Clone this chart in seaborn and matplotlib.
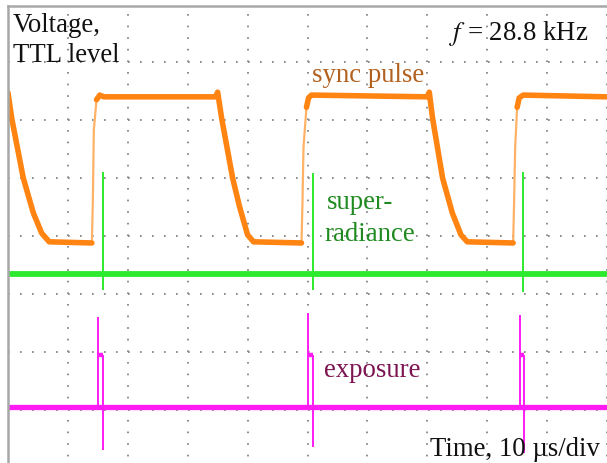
import numpy as np
import matplotlib
matplotlib.use('Agg')
import matplotlib.pyplot as plt
import seaborn as sns

# time in microseconds (10 us per division), level in screen divisions
time_span = [0.0, 99.9]

# sync pulse (orange trace)
sync_time = [0.0, 0.62, 2.55, 4.22, 5.62, 6.88, 14.0, 14.17, 14.33, 14.78, 15.33, 16.0,
             34.67, 35.0, 35.67, 37.5, 38.67, 40.0, 41.0, 49.0, 49.17, 49.33, 49.83, 50.17, 50.67,
             70.0, 70.33, 70.88, 72.55, 74.17, 75.62, 76.67, 84.33, 84.5, 84.67, 85.0, 85.33, 86.0, 99.9]
sync_level = [6.47, 6.03, 5.0, 4.40, 4.05, 3.90, 3.88, 4.62, 5.83, 6.35, 6.43, 6.40,
              6.40, 6.48, 6.03, 5.0, 4.50, 4.02, 3.90, 3.88, 4.62, 5.53, 6.22, 6.38, 6.43,
              6.40, 6.48, 6.03, 5.0, 4.40, 4.02, 3.90, 3.88, 4.62, 5.53, 6.22, 6.38, 6.43, 6.40]

# superradiance (green trace)
sr_baseline = 3.345
sr_spike_time = [15.83, 51.0, 86.0]
sr_spike_top = [5.10, 5.09, 5.10]
sr_spike_bottom = [3.07, 3.07, 3.04]

# exposure (magenta trace)
exp_baseline = 1.05
exp_rise_time = [15.05, 50.0, 85.45]
exp_fall_time = [15.88, 51.0, 86.17]
exp_overshoot = [2.60, 2.67, 2.64]
exp_plateau = [1.95, 1.95, 1.95]
exp_undershoot = [0.31, 0.36, 0.26]

sns.set_style('white')
plt.rcParams['font.family'] = ['Liberation Serif', 'DejaVu Serif']
plt.rcParams['mathtext.fontset'] = 'stix'
plt.rcParams['lines.scale_dashes'] = False

fig = plt.figure(figsize=(6.07, 4.63), dpi=100)
ax = fig.add_axes([8 / 607, 0, 599 / 607, 457 / 463])
ax.set_xlim(0, 99.83)
ax.set_ylim(0.086, 7.966)

# oscilloscope graticule: dotted lines
ax.set_xticks(np.arange(0, 101, 10))
ax.set_yticks(np.arange(1, 8))
ax.tick_params(length=0, labelbottom=False, labelleft=False)
ax.xaxis.grid(True, color='#8c8c8c', lw=1.4, linestyle=(3.6, (1.2, 7.15)))
ax.yaxis.grid(True, color='#8c8c8c', lw=1.4, linestyle=(0, (1.2, 7.44)))
for side in ['right', 'bottom']:
    ax.spines[side].set_visible(False)
for side in ['left', 'top']:
    ax.spines[side].set_color('#a8a8a8')
    ax.spines[side].set_linewidth(1.8)

orange = '#ff8412'
green = '#2eea2e'
magenta = '#ff1cf4'

# sync pulse: fast rising edges are drawn faint and thin, the rest thick
t = np.array(sync_time)
v = np.array(sync_level)
sns.lineplot(x=t, y=v, ax=ax, color='#ffb266', lw=1.6, sort=False, estimator=None)
steep = np.diff(v) / np.diff(t) > 1
run = [0]
for i in range(len(steep)):
    if steep[i]:
        if len(run) > 1:
            sns.lineplot(x=t[run], y=v[run], ax=ax, color=orange, lw=4.0, sort=False,
                         estimator=None, solid_joinstyle='round', solid_capstyle='round')
        run = [i + 1]
    else:
        run.append(i + 1)
sns.lineplot(x=t[run], y=v[run], ax=ax, color=orange, lw=4.0, sort=False,
             estimator=None, solid_joinstyle='round', solid_capstyle='round')

# superradiance
sns.lineplot(x=time_span, y=[sr_baseline, sr_baseline], ax=ax, color=green, lw=4.2,
             estimator=None)
ax.vlines(sr_spike_time, sr_spike_bottom, sr_spike_top, color=green, lw=1.4)

# exposure
sns.lineplot(x=time_span, y=[exp_baseline, exp_baseline], ax=ax, color=magenta, lw=3.8,
             estimator=None)
ax.vlines(exp_rise_time, exp_baseline, exp_overshoot, color=magenta, lw=1.4)
ax.vlines(exp_fall_time, exp_undershoot, exp_plateau, color=magenta, lw=1.4)
ax.hlines(exp_plateau, exp_rise_time, exp_fall_time, color=magenta, lw=3.2)

fs = 19.3
ax.text(0.83, 7.52, 'Voltage,', fontsize=fs, va='baseline', color='#111111')
ax.text(0.83, 7.0, 'TTL level', fontsize=fs, va='baseline', color='#111111')
ax.text(73.7, 7.38, '$f$ = 28.8 kHz', fontsize=fs, va='baseline', color='#111111')
ax.text(50.8, 6.66, 'sync pulse', fontsize=fs, va='baseline', color='#b2601e')
ax.text(53.3, 4.47, 'super-', fontsize=fs, va='baseline', color='#1f8a1f')
ax.text(52.8, 3.92, 'radiance', fontsize=fs, va='baseline', color='#1f8a1f')
ax.text(52.8, 1.57, 'exposure', fontsize=fs, va='baseline', color='#7c1452')
ax.text(70.5, 0.21, 'Time, 10 \u00b5s/div', fontsize=fs, va='baseline', color='#111111')

fig.savefig('out.png', dpi=100)
